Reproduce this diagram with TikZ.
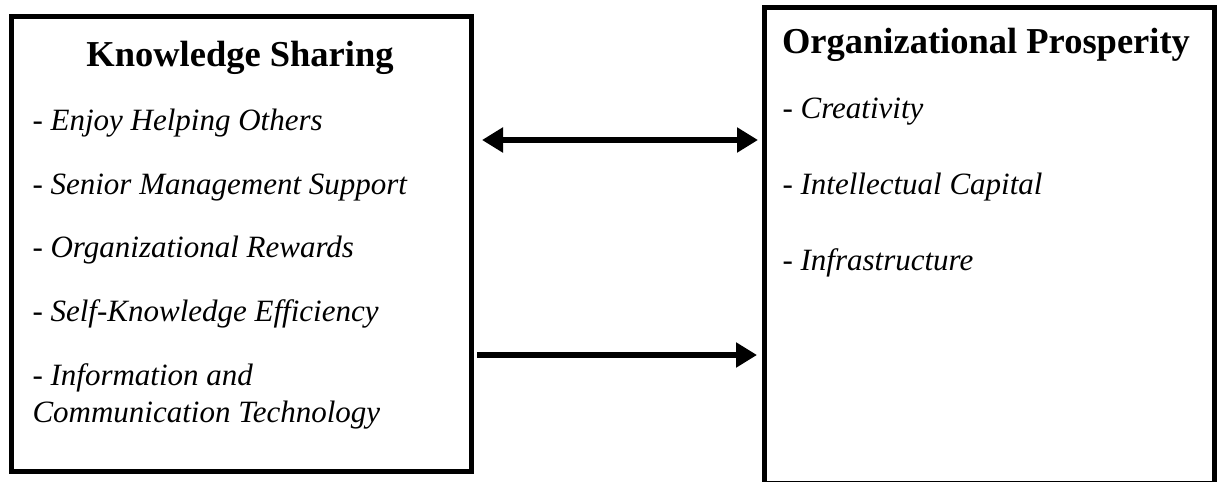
\documentclass[tikz,border=0pt]{standalone}
\usepackage{fontspec}
\setmainfont{Liberation Serif}
\usetikzlibrary{arrows.meta}

\begin{document}
\begin{tikzpicture}[x=1pt, y=-1pt,
  box/.style = {draw, line width=5pt, inner sep=0pt},
  head/.style = {anchor=base, font=\fontsize{36.5}{40}\selectfont\bfseries},
  item/.style = {anchor=base west, font=\fontsize{31}{36}\selectfont\itshape},
  link/.style = {line width=6pt, -{Triangle[length=21pt,width=24pt]}},
  bilink/.style = {line width=6pt, {Triangle[length=21pt,width=24pt]}-{Triangle[length=21pt,width=24pt]}}]

\useasboundingbox (0,0) rectangle (1219,482);

%% boxes
\node[box, minimum width=460pt, minimum height=455pt] (ks) at (241,244) {};
\node[box, minimum width=450pt, minimum height=476pt] (op) at (989,245) {};

%% titles
\node[head] (kstitle) at (240,66) {Knowledge Sharing};
\node[head] (optitle) at (986,53) {Organizational Prosperity};

%% knowledge sharing items
\node[item] (ks1) at (29,130) {- Enjoy Helping Others};
\node[item] (ks2) at (29,194) {- Senior Management Support};
\node[item] (ks3) at (29,257) {- Organizational Rewards};
\node[item] (ks4) at (29,321) {- Self-Knowledge Efficiency};
\node[item] (ks5) at (29,385) {- Information and};
\node[item] (ks6) at (29,422) {Communication Technology};

%% organizational prosperity items
\node[item] (op1) at (779,118) {- Creativity};
\node[item] (op2) at (779,194) {- Intellectual Capital};
\node[item] (op3) at (779,270) {- Infrastructure};

%% arrow ends
\coordinate (a1) at (482,140);
\coordinate (b1) at (758,140);
\coordinate (a2) at (477,355);
\coordinate (b2) at (757,355);

%%% edges
\draw[bilink] (a1) -- (b1);
\draw[link] (a2) -- (b2);

\end{tikzpicture}
\end{document}
